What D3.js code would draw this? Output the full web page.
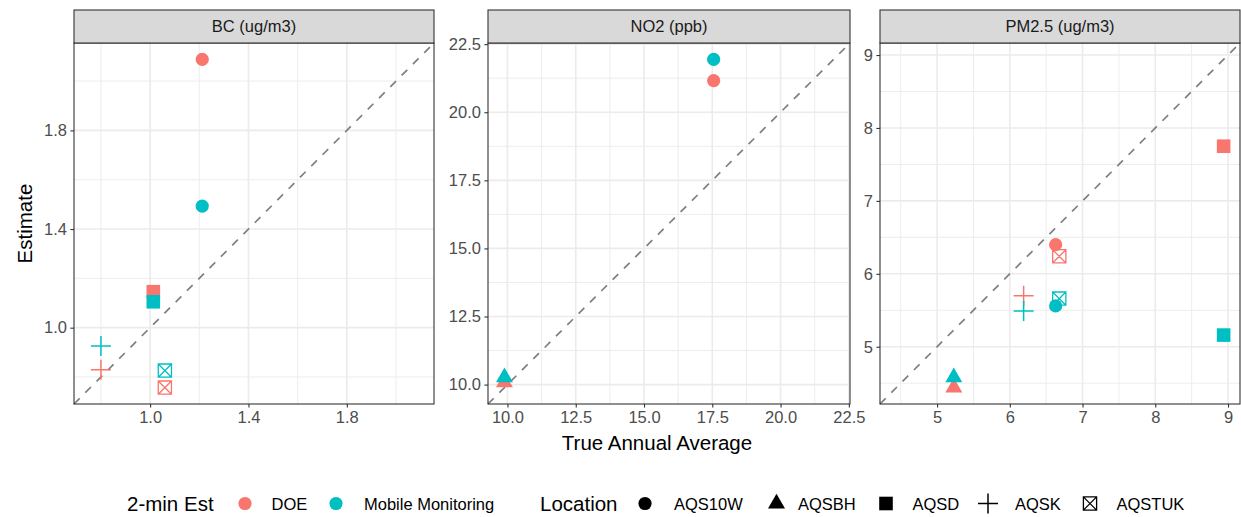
<!DOCTYPE html>
<html>
<head>
<meta charset="utf-8">
<script src="https://cdn.jsdelivr.net/npm/d3@7"></script>
<style>
  html, body { margin: 0; padding: 0; background: #ffffff; }
  svg { display: block; }
</style>
</head>
<body>
<svg id="chart" width="1241" height="517"></svg>
<script>
// ---- data ---------------------------------------------------------------
const panelTitles = ["BC (ug/m3)", "NO2 (ppb)", "PM2.5 (ug/m3)"];
const methods = ["DOE", "Mobile Monitoring"];
const methodColors = ["#F8766D", "#00BFC4"];
const locations = ["AQS10W", "AQSBH", "AQSD", "AQSK", "AQSTUK"];

// values follow the order of `locations`; null = site not measured
const bcTrue   = [1.212, null, 1.013, 0.800, 1.060];
const bcDOE    = [2.088, null, 1.146, 0.829, 0.757];
const bcMobile = [1.493, null, 1.105, 0.926, 0.826];

const no2True   = [17.55, 9.89, null, null, null];
const no2DOE    = [21.16, 10.08, null, null, null];
const no2Mobile = [21.94, 10.27, null, null, null];

const pmTrue   = [6.63, 5.23, 8.94, 6.19, 6.68];
const pmDOE    = [6.40, 4.44, 7.75, 5.70, 6.24];
const pmMobile = [5.56, 4.58, 5.16, 5.49, 5.66];

const bcTicks  = [1.0, 1.4, 1.8];
const no2Ticks = [10.0, 12.5, 15.0, 17.5, 20.0, 22.5];
const pmTicks  = [5, 6, 7, 8, 9];

const xTitle = "True Annual Average";
const yTitle = "Estimate";
const colorTitle = "2-min Est";
const shapeTitle = "Location";

// ---- assemble panel tables -------------------------------------------
function rows(trueVals, estByMethod) {
  const out = [];
  estByMethod.forEach((est, m) => {
    locations.forEach((loc, i) => {
      if (trueVals[i] != null && est[i] != null) {
        out.push({ method: methods[m], loc, x: trueVals[i], y: est[i] });
      }
    });
  });
  return out;
}
const panels = [
  { title: panelTitles[0], data: rows(bcTrue, [bcDOE, bcMobile]),   ticks: bcTicks,  fmt: d3.format(".1f") },
  { title: panelTitles[1], data: rows(no2True, [no2DOE, no2Mobile]), ticks: no2Ticks, fmt: d3.format(".1f") },
  { title: panelTitles[2], data: rows(pmTrue, [pmDOE, pmMobile]),   ticks: pmTicks,  fmt: d3.format("d") }
];

// ---- layout -------------------------------------------------------------
const font = "'Liberation Sans', Arial, Helvetica, sans-serif";
const panelX = [[74, 434], [488, 850], [880, 1240]];
const plotTop = 43, plotBottom = 404, stripTop = 10;
const tickLen = 3.6;

const color = d3.scaleOrdinal().domain(methods).range(methodColors);

// marker outlines, centred on (0,0)
function shapePath(loc) {
  switch (loc) {
    case "AQS10W": { const r = 6.6; return `M${-r},0A${r},${r} 0 1,0 ${r},0A${r},${r} 0 1,0 ${-r},0Z`; }
    case "AQSBH":  { const R = 6.3, a = 1.555 * R, b = 1.347 * R, c = 0.778 * R; return `M0,${-a}L${b},${c}L${-b},${c}Z`; }
    case "AQSD":   { const h = 6.8; return `M${-h},${-h}H${h}V${h}H${-h}Z`; }
    case "AQSK":   { const h = 10; return `M${-h},0H${h}M0,${-h}V${h}`; }
    case "AQSTUK": { const h = 6.6; return `M${-h},${-h}H${h}V${h}H${-h}ZM${-h},${-h}L${h},${h}M${h},${-h}L${-h},${h}`; }
  }
}
const isOpen = loc => loc === "AQSK" || loc === "AQSTUK";
function styleMarker(sel, col) {
  sel.attr("fill", d => isOpen(d) ? "none" : col)
     .attr("stroke", d => isOpen(d) ? col : "none")
     .attr("stroke-width", d => d === "AQSK" ? 1.5 : 1.3);
}

const svg = d3.select("#chart");

panels.forEach((p, i) => {
  const [x0, x1] = panelX[i];
  const vals = p.data.flatMap(d => [d.x, d.y]);
  const lo = d3.min(vals), hi = d3.max(vals), pad = (hi - lo) * 0.05;
  const dom = [lo - pad, hi + pad];
  const x = d3.scaleLinear().domain(dom).range([x0, x1]);
  const y = d3.scaleLinear().domain(dom).range([plotBottom, plotTop]);

  const g = svg.append("g");

  // grid: minor at half steps, then major at ticks
  const step = p.ticks[1] - p.ticks[0];
  const minor = [p.ticks[0] - step / 2, ...p.ticks.map(t => t + step / 2)]
    .filter(v => v > dom[0] && v < dom[1]);
  const major = p.ticks.filter(v => v >= dom[0] && v <= dom[1]);

  g.selectAll(".gxm").data(minor).join("line")
    .attr("x1", d => x(d)).attr("x2", d => x(d)).attr("y1", plotTop).attr("y2", plotBottom)
    .attr("stroke", "#EBEBEB").attr("stroke-width", 0.9);
  g.selectAll(".gym").data(minor).join("line")
    .attr("y1", d => y(d)).attr("y2", d => y(d)).attr("x1", x0).attr("x2", x1)
    .attr("stroke", "#EBEBEB").attr("stroke-width", 0.9);
  g.selectAll(".gxM").data(major).join("line")
    .attr("x1", d => x(d)).attr("x2", d => x(d)).attr("y1", plotTop).attr("y2", plotBottom)
    .attr("stroke", "#EBEBEB").attr("stroke-width", 1.6);
  g.selectAll(".gyM").data(major).join("line")
    .attr("y1", d => y(d)).attr("y2", d => y(d)).attr("x1", x0).attr("x2", x1)
    .attr("stroke", "#EBEBEB").attr("stroke-width", 1.6);

  // 1:1 reference line
  g.append("line")
    .attr("x1", x(dom[0])).attr("y1", y(dom[0]))
    .attr("x2", x(dom[1])).attr("y2", y(dom[1]))
    .attr("stroke", "#7F7F7F").attr("stroke-width", 1.7)
    .attr("stroke-dasharray", "8,8");

  // points
  g.selectAll(".pt").data(p.data).join("path")
    .attr("transform", d => `translate(${x(d.x)},${y(d.y)})`)
    .attr("d", d => shapePath(d.loc))
    .each(function (d) {
      d3.select(this).datum(d.loc).call(styleMarker, color(d.method)).datum(d);
    });

  // panel border
  g.append("rect")
    .attr("x", x0).attr("y", plotTop).attr("width", x1 - x0).attr("height", plotBottom - plotTop)
    .attr("fill", "none").attr("stroke", "#333333").attr("stroke-width", 1.1);

  // strip
  g.append("rect")
    .attr("x", x0).attr("y", stripTop).attr("width", x1 - x0).attr("height", plotTop - stripTop)
    .attr("fill", "#D9D9D9").attr("stroke", "#333333").attr("stroke-width", 1.1);
  g.append("text")
    .attr("x", (x0 + x1) / 2).attr("y", (stripTop + plotTop) / 2 + 5.9)
    .attr("text-anchor", "middle")
    .attr("font-family", font).attr("font-size", 16.5).attr("fill", "#1A1A1A")
    .text(p.title);

  // axes
  const ax = g.append("g").attr("transform", `translate(0,${plotBottom})`)
    .call(d3.axisBottom(x).tickValues(p.ticks).tickFormat(p.fmt).tickSize(tickLen).tickPadding(4));
  const ay = g.append("g").attr("transform", `translate(${x0},0)`)
    .call(d3.axisLeft(y).tickValues(p.ticks).tickFormat(p.fmt).tickSize(tickLen).tickPadding(3.5));
  [ax, ay].forEach(a => {
    a.select(".domain").remove();
    a.selectAll(".tick line").attr("stroke", "#333333").attr("stroke-width", 1.1);
    a.selectAll(".tick text").attr("fill", "#4D4D4D")
      .attr("font-family", font).attr("font-size", 16.5);
  });
});

// axis titles
svg.append("text")
  .attr("x", (panelX[0][0] + panelX[2][1]) / 2).attr("y", 450)
  .attr("text-anchor", "middle")
  .attr("font-family", font).attr("font-size", 20.5).attr("fill", "#000")
  .text(xTitle);
svg.append("text")
  .attr("transform", `translate(31.5,${(plotTop + plotBottom) / 2}) rotate(-90)`)
  .attr("text-anchor", "middle")
  .attr("font-family", font).attr("font-size", 20.5).attr("fill", "#000")
  .text(yTitle);

// ---- legends -------------------------------------------------------------
const legY = 503.5;
const lg = svg.append("g");
lg.append("text").attr("x", 127).attr("y", legY + 7.3)
  .attr("font-family", font).attr("font-size", 20.5).attr("fill", "#000").text(colorTitle);
const colorKeys = [245, 336], colorLabels = [271.5, 364];
methods.forEach((m, i) => {
  lg.append("path").datum("AQS10W")
    .attr("transform", `translate(${colorKeys[i]},${legY})`)
    .attr("d", shapePath("AQS10W")).call(styleMarker, color(m));
  lg.append("text").attr("x", colorLabels[i]).attr("y", legY + 6)
    .attr("font-family", font).attr("font-size", 16.5).attr("fill", "#000").text(m);
});

lg.append("text").attr("x", 540).attr("y", legY + 7.3)
  .attr("font-family", font).attr("font-size", 20.5).attr("fill", "#000").text(shapeTitle);
const shapeKeys = [645, 776.5, 886, 988, 1090], shapeLabels = [674, 798, 912.5, 1015, 1116.5];
locations.forEach((loc, i) => {
  lg.append("path").datum(loc)
    .attr("transform", `translate(${shapeKeys[i]},${legY})`)
    .attr("d", shapePath(loc)).call(styleMarker, "#000");
  lg.append("text").attr("x", shapeLabels[i]).attr("y", legY + 6)
    .attr("font-family", font).attr("font-size", 16.5).attr("fill", "#000").text(loc);
});
</script>
</body>
</html>
